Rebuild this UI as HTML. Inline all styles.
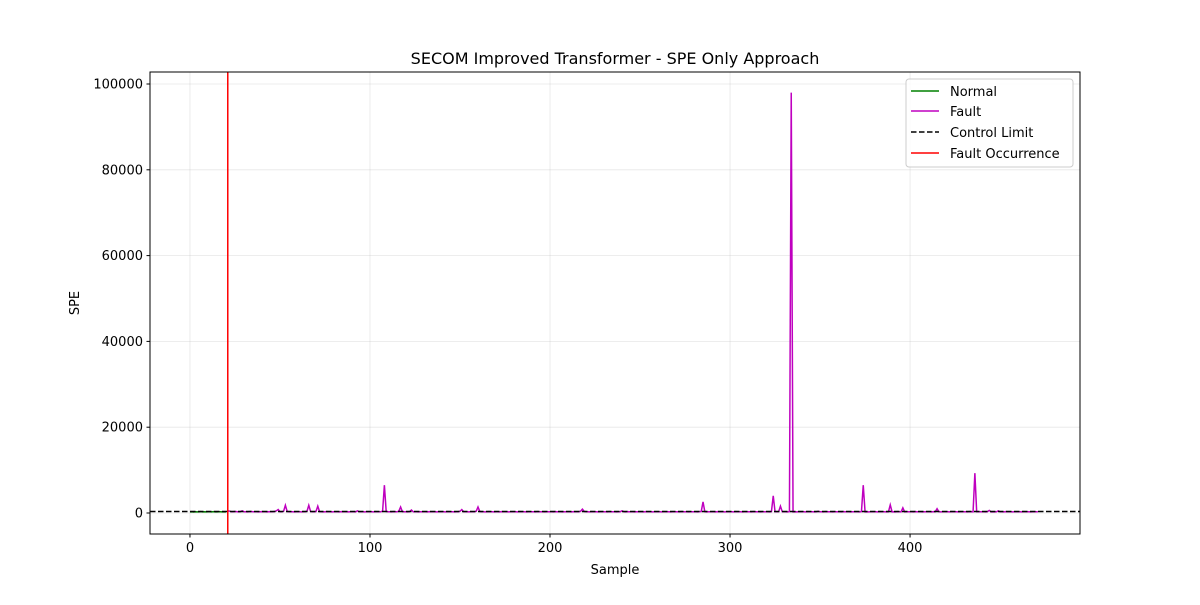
<!DOCTYPE html>
<html><head><meta charset="utf-8"><style>
body{margin:0;background:#fff}
svg text{font-family:"DejaVu Sans","Liberation Sans",sans-serif}
</style></head><body>
<svg id="chart" width="1200" height="600" xmlns="http://www.w3.org/2000/svg">
<rect width="1200" height="600" fill="#fff"/>
<text x="615" y="64" font-size="16" text-anchor="middle">SECOM Improved Transformer - SPE Only Approach</text>
<g id="grid"></g>
<g id="marks"></g>
<rect x="150" y="72" width="930" height="462" fill="none" stroke="#000" stroke-width="1"/>
<g id="ticks"></g>
<text x="615" y="574" font-size="13" text-anchor="middle">Sample</text>
<text x="79" y="303" font-size="13" text-anchor="middle" transform="rotate(-90 79 303)">SPE</text>
<g>
<rect x="906" y="79" width="167" height="88" fill="#fff" fill-opacity="0.8" stroke="#ccc" rx="3"/>
<g><line x1="911" y1="91" x2="939" y2="91" stroke="green" stroke-width="1.5"/><text x="950" y="96" font-size="13">Normal</text></g>
<g><line x1="911" y1="111" x2="939" y2="111" stroke="#bf00bf" stroke-width="1.5"/><text x="950" y="116" font-size="13">Fault</text></g>
<g><line x1="911" y1="132" x2="939" y2="132" stroke="#000" stroke-width="1.5" stroke-dasharray="5.5,2.5"/><text x="950" y="137" font-size="13">Control Limit</text></g>
<g><line x1="911" y1="153" x2="939" y2="153" stroke="red" stroke-width="1.5"/><text x="950" y="158" font-size="13">Fault Occurrence</text></g>
</g>
</svg>
<script>
const xTicks=[0,100,200,300,400];
const yTicks=[0,20000,40000,60000,80000,100000];
const controlLimit=350;
const faultStart=21;
const spe=[
250,280,240,300,260,270,310,250,290,260,
280,300,260,320,270,250,300,290,260,280,
270,500,450,300,280,350,320,260,300,500,
300,280,260,320,350,300,280,300,260,290,
310,280,300,260,330,300,280,350,500,800,
300,280,400,1800,350,300,280,300,260,290,
300,280,260,320,300,400,1800,350,280,300,
350,1600,300,280,260,300,320,280,300,260,
290,300,280,260,320,300,280,300,270,290,
300,280,260,500,300,280,300,260,290,300,
280,300,260,320,300,280,300,400,6500,350,
300,280,260,320,300,280,400,1400,300,280,
300,260,320,700,300,280,300,260,290,300,
280,300,260,320,300,280,300,260,290,300,
280,300,260,320,300,280,300,260,290,300,
400,800,300,280,300,260,320,300,280,400,
1400,350,300,280,260,300,320,280,300,260,
300,280,260,320,300,280,300,260,290,300,
280,300,260,320,300,280,300,260,290,300,
280,300,260,320,300,280,300,260,290,300,
280,300,260,320,300,280,300,260,290,300,
280,300,260,320,300,280,300,400,900,350,
300,280,260,320,300,280,300,260,290,300,
280,300,260,320,300,280,300,260,290,300,
500,300,260,320,300,280,300,260,290,300,
280,300,260,320,300,280,300,260,290,300,
280,300,260,320,300,280,300,260,290,300,
280,300,260,320,300,280,300,260,290,300,
280,300,260,320,350,2600,300,260,290,300,
280,300,260,320,300,280,300,260,290,300,
280,300,260,320,300,280,300,260,290,300,
280,300,260,320,300,280,300,260,290,300,
280,300,260,320,4000,300,280,300,1600,300,
280,300,260,320,98000,280,300,260,290,300,
280,300,260,320,300,280,300,260,290,400,
280,300,260,320,300,280,300,260,290,300,
280,300,260,320,300,280,300,260,290,300,
280,300,260,320,6500,280,300,260,290,300,
280,300,260,320,300,280,300,260,290,1900,
280,300,260,320,300,280,1200,260,290,300,
280,300,260,320,300,280,300,260,290,300,
280,300,260,320,300,1000,300,260,290,300,
280,300,260,320,300,280,300,260,290,300,
280,300,260,320,300,280,9300,300,290,300,
280,300,260,320,600,280,300,260,290,500,
280,300,260,320,300,280,300,260,290,300,
280,300,260,320,300,280,300,260,290,300,
280,300
];
const X0=150,X1=1080,Y0=72,Y1=534;
const xMin=-22.2,xMax=494.4,yMin=-4895,yMax=102797;
function sx(v){return X0+(v-xMin)/(xMax-xMin)*(X1-X0);}
function sy(v){return Y1-(v-yMin)/(yMax-yMin)*(Y1-Y0);}
const NS="http://www.w3.org/2000/svg";
function mk(tag,attrs,parent){const e=document.createElementNS(NS,tag);for(const k in attrs)e.setAttribute(k,attrs[k]);parent.appendChild(e);return e;}
const grid=document.getElementById('grid'),ticks=document.getElementById('ticks'),marks=document.getElementById('marks');
xTicks.forEach(t=>{const x=sx(t);
const g=mk('line',{x1:x,x2:x,y1:Y0,y2:Y1,stroke:'#b0b0b0','stroke-opacity':0.3,'stroke-width':0.8},grid);


mk('line',{x1:x,x2:x,y1:Y1,y2:Y1+3.5,stroke:'#000'},ticks);
const l=mk('text',{x:x,y:Y1+18,'font-size':13,'text-anchor':'middle'},ticks);l.textContent=t;

});
yTicks.forEach(t=>{const y=sy(t);
const g=mk('line',{x1:X0,x2:X1,y1:y,y2:y,stroke:'#b0b0b0','stroke-opacity':0.3,'stroke-width':0.8},grid);


mk('line',{x1:X0-3.5,x2:X0,y1:y,y2:y,stroke:'#000'},ticks);
const l=mk('text',{x:X0-7,y:y+4.5,'font-size':13,'text-anchor':'end'},ticks);l.textContent=t;

});
function path(from,to){let d='';for(let i=from;i<=to&&i<spe.length;i++){d+=(i===from?'M':'L')+sx(i).toFixed(2)+','+sy(spe[i]).toFixed(2);}return d;}
const pn=mk('path',{d:path(0,faultStart-1),fill:'none',stroke:'green','stroke-width':1.5},marks);


const pf=mk('path',{d:path(faultStart,spe.length-1),fill:'none',stroke:'#bf00bf','stroke-width':1.5},marks);


const cl=mk('line',{x1:X0,x2:X1,y1:sy(controlLimit),y2:sy(controlLimit),stroke:'#000','stroke-width':1.5,'stroke-dasharray':'5.5,2.5'},marks);


const fo=mk('line',{x1:sx(faultStart),x2:sx(faultStart),y1:Y0,y2:Y1,stroke:'red','stroke-width':1.5},marks);


</script>
</body></html>
